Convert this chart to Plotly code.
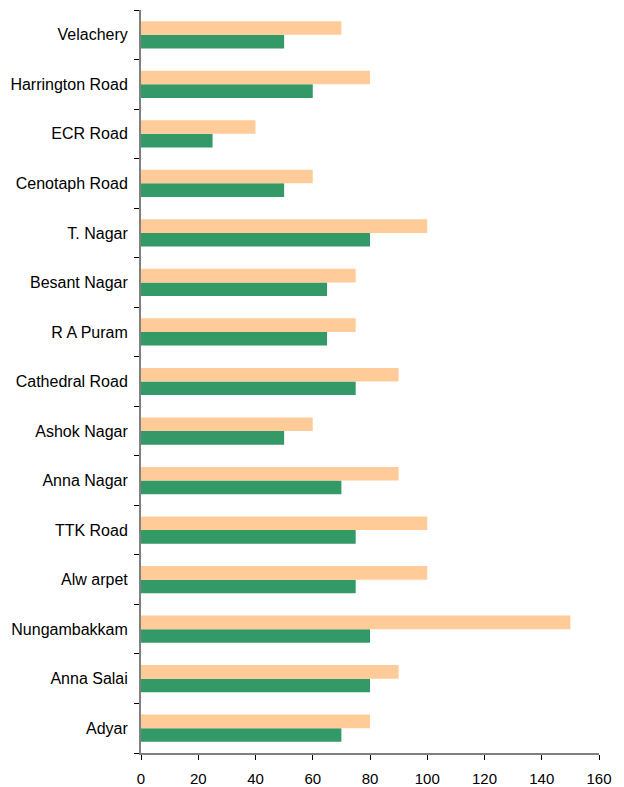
import plotly.graph_objects as go

# Localities, listed bottom to top
localities = [
    "Adyar", "Anna Salai", "Nungambakkam", "Alw arpet", "TTK Road",
    "Anna Nagar", "Ashok Nagar", "Cathedral Road", "R A Puram",
    "Besant Nagar", "T. Nagar", "Cenotaph Road", "ECR Road",
    "Harrington Road", "Velachery",
]
series_high = [80, 90, 150, 100, 100, 90, 60, 90, 75, 75, 100, 60, 40, 80, 70]
series_low = [70, 80, 80, 75, 75, 70, 50, 75, 65, 65, 80, 50, 25, 60, 50]
x_ticks = [0, 20, 40, 60, 80, 100, 120, 140, 160]

fig = go.Figure()
fig.add_trace(go.Bar(
    y=localities, x=series_low, orientation="h",
    marker=dict(color="#339966", line=dict(width=0)),
    name="Low",
))
fig.add_trace(go.Bar(
    y=localities, x=series_high, orientation="h",
    marker=dict(color="#FFCC99", line=dict(width=0)),
    name="High",
))

fig.update_layout(
    width=624, height=787,
    margin=dict(l=141, r=25, t=10, b=34),
    barmode="group", bargap=0.45, bargroupgap=0,
    plot_bgcolor="white", paper_bgcolor="white",
    showlegend=False,
    font=dict(family="Liberation Sans, Arial, sans-serif", size=16, color="#000000"),
)
fig.update_xaxes(
    range=[0, 160], tickvals=x_ticks, ticktext=[str(v) for v in x_ticks],
    tickfont=dict(size=15),
    showgrid=False, zeroline=False,
    showline=True, linecolor="#808080", linewidth=2,
    ticks="outside", ticklen=5, tickcolor="#000000", tickwidth=1,
    ticklabelstandoff=6, automargin=False,
    fixedrange=True,
)
fig.update_yaxes(
    categoryorder="array", categoryarray=localities,
    tickfont=dict(size=16),
    showgrid=False, zeroline=False,
    showline=True, linecolor="#808080", linewidth=2,
    ticks="outside", ticklen=5, tickcolor="#000000", tickwidth=1,
    tickson="boundaries", ticklabelstandoff=8, automargin=False,
    fixedrange=True,
)

fig.write_html("out.html")
